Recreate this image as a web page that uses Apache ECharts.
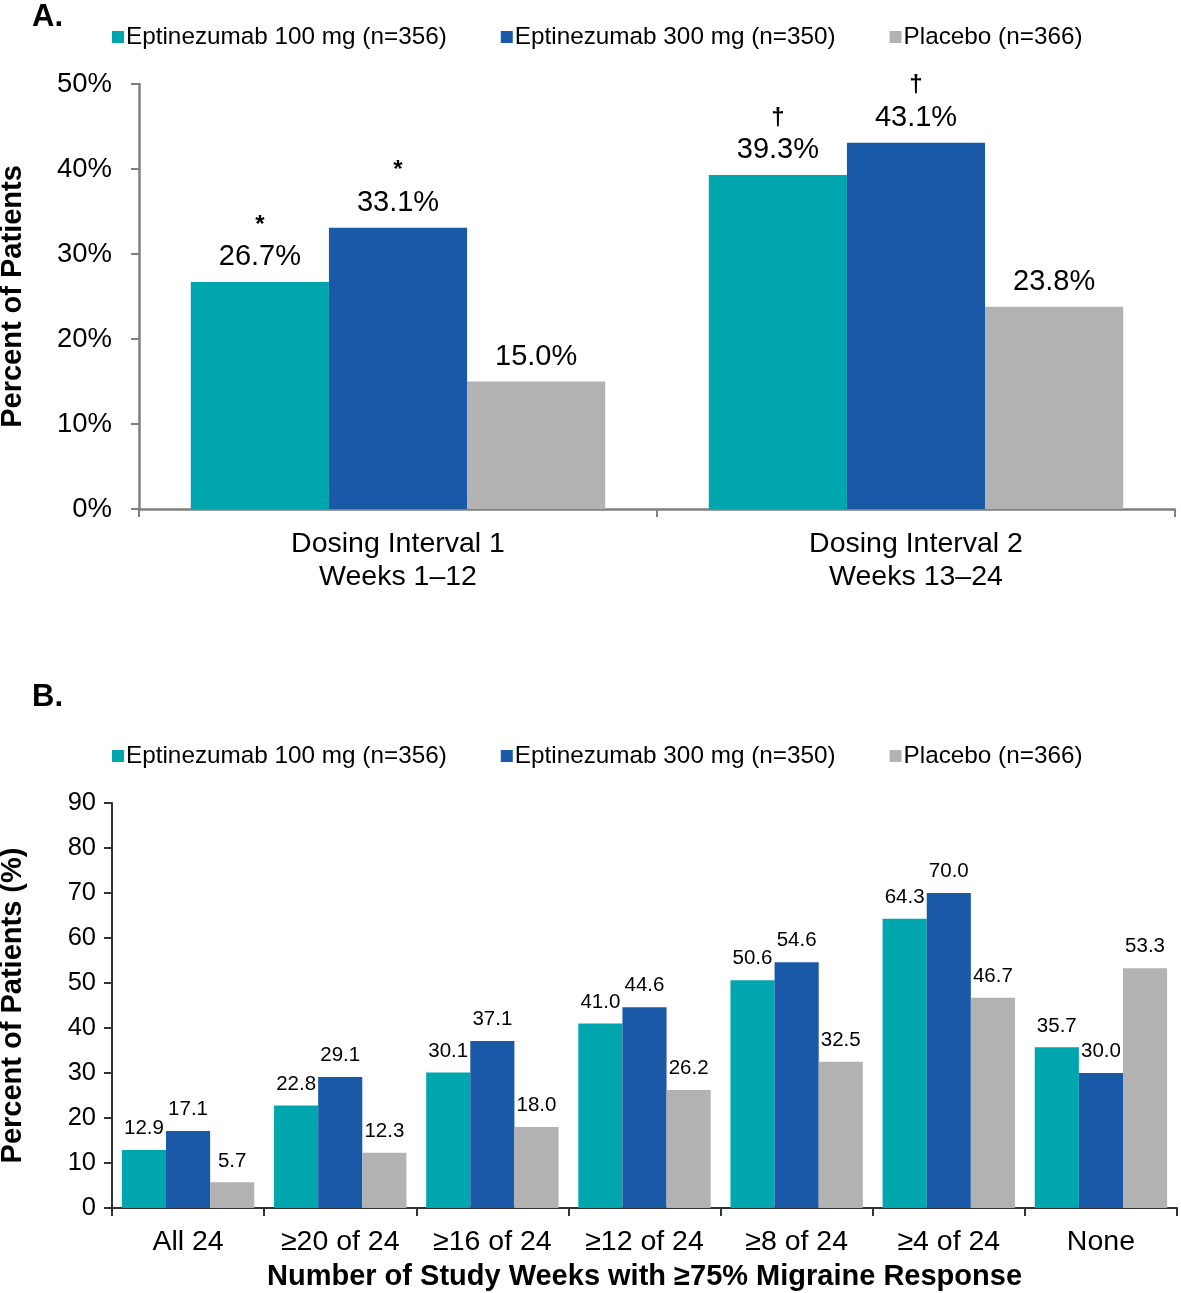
<!DOCTYPE html>
<html>
<head>
<meta charset="utf-8">
<script src="https://cdn.jsdelivr.net/npm/echarts@6/dist/echarts.min.js"></script>
<style>html,body{margin:0;padding:0;background:#fff;}#c{width:1181px;height:1293px;}</style>
</head>
<body>
<div id="c"></div>
<script>
// ---- Data ----
const seriesNames = ['Eptinezumab 100 mg (n=356)', 'Eptinezumab 300 mg (n=350)', 'Placebo (n=366)'];
const colors = ['#00A6AE', '#1A59A8', '#B2B2B2'];

// Panel A
const catsA = ['Dosing Interval 1\nWeeks 1\u201312', 'Dosing Interval 2\nWeeks 13\u201324'];
const a100 = [26.7, 39.3];
const a300 = [33.1, 43.1];
const aPbo = [15.0, 23.8];
const marksA100 = ['*', '\u2020'];
const marksA300 = ['*', '\u2020'];
const marksAPbo = ['', ''];
const ticksA = [0, 10, 20, 30, 40, 50];

// Panel B
const catsB = ['All 24', '\u226520 of 24', '\u226516 of 24', '\u226512 of 24', '\u22658 of 24', '\u22654 of 24', 'None'];
const b100 = [12.9, 22.8, 30.1, 41.0, 50.6, 64.3, 35.7];
const b300 = [17.1, 29.1, 37.1, 44.6, 54.6, 70.0, 30.0];
const bPbo = [5.7, 12.3, 18.0, 26.2, 32.5, 46.7, 53.3];
const ticksB = [0, 10, 20, 30, 40, 50, 60, 70, 80, 90];

const FONT = 'Liberation Sans, Arial, Helvetica, sans-serif';

function seriesA(idx, vals, marks) {
  return {
    name: seriesNames[idx], type: 'bar', xAxisIndex: 0, yAxisIndex: 0,
    data: vals, barGap: '0%', barCategoryGap: '20%',
    itemStyle: { color: colors[idx] },
    label: {
      show: true, position: 'top', distance: 9,
      formatter: p => {
        const m = marks[p.dataIndex];
        const v = p.value.toFixed(1) + '%';
        return m ? '{m|' + m + '}\n{v|' + v + '}' : '{v|' + v + '}';
      },
      rich: {
        m: { fontFamily: FONT, fontSize: 24, fontWeight: 'bold', color: '#000', lineHeight: 32, align: 'center' },
        v: { fontFamily: FONT, fontSize: 29, color: '#000', lineHeight: 32, align: 'center' }
      }
    }
  };
}
function seriesB(idx, vals) {
  return {
    name: seriesNames[idx], type: 'bar', xAxisIndex: 1, yAxisIndex: 1,
    data: vals, barGap: '0%', barCategoryGap: '13%',
    itemStyle: { color: colors[idx] },
    label: {
      show: true, position: 'top', distance: 11,
      fontFamily: FONT, fontSize: 20.5, color: '#000',
      formatter: p => p.value.toFixed(1)
    }
  };
}

const legendCommon = {
  data: seriesNames, icon: 'rect', itemWidth: 12, itemHeight: 12, itemGap: 54,
  left: 107, selectedMode: false,
  textStyle: { fontFamily: FONT, fontSize: 24.3, color: '#000', padding: [0, 0, 0, -3] }
};

const chart = echarts.init(document.getElementById('c'), null, { renderer: 'canvas' });
chart.setOption({
  animation: false,
  backgroundColor: '#fff',
  title: [
    { text: 'A.', left: 27, top: -3, textStyle: { fontFamily: FONT, fontSize: 31, fontWeight: 'bold', color: '#000' } },
    { text: 'B.', left: 27, top: 677, textStyle: { fontFamily: FONT, fontSize: 31, fontWeight: 'bold', color: '#000' } }
  ],
  legend: [
    Object.assign({}, legendCommon, { top: 20 }),
    Object.assign({}, legendCommon, { top: 739 })
  ],
  grid: [
    { left: 139, right: 6, top: 84, height: 425, outerBoundsMode: 'none', containLabel: false },
    { left: 112, right: 4, top: 803, height: 405, outerBoundsMode: 'none', containLabel: false }
  ],
  xAxis: [
    {
      type: 'category', gridIndex: 0, data: catsA,
      axisLine: { lineStyle: { color: '#7F7F7F', width: 2.5 } },
      axisTick: { show: true, length: 8, lineStyle: { color: '#7F7F7F', width: 2 } },
      axisLabel: { fontFamily: FONT, fontSize: 28.5, color: '#000', lineHeight: 33, margin: 19, interval: 0 }
    },
    {
      type: 'category', gridIndex: 1, data: catsB,
      axisLine: { lineStyle: { color: '#333', width: 2 } },
      axisTick: { show: true, length: 8, interval: 0, lineStyle: { color: '#333', width: 2 } },
      axisLabel: { fontFamily: FONT, fontSize: 28.5, color: '#000', margin: 20, interval: 0, hideOverlap: false },
      name: 'Number of Study Weeks with \u226575% Migraine Response',
      nameLocation: 'middle', nameGap: 54,
      nameTextStyle: { fontFamily: FONT, fontSize: 29, fontWeight: 'bold', color: '#000' }
    }
  ],
  yAxis: [
    {
      type: 'value', gridIndex: 0, min: 0, max: 50, interval: 10,
      axisLine: { show: true, lineStyle: { color: '#7F7F7F', width: 2.5 } },
      axisTick: { show: true, length: 8, lineStyle: { color: '#7F7F7F', width: 2 } },
      splitLine: { show: false },
      axisLabel: { fontFamily: FONT, fontSize: 27.5, color: '#000', margin: 27,
        formatter: v => (ticksA.indexOf(v) >= 0 ? v + '%' : '') },
      name: 'Percent of Patients', nameLocation: 'middle', nameRotate: 90, nameGap: 112,
      nameTextStyle: { fontFamily: FONT, fontSize: 29, fontWeight: 'bold', color: '#000' }
    },
    {
      type: 'value', gridIndex: 1, min: 0, max: 90, interval: 10,
      axisLine: { show: true, lineStyle: { color: '#333', width: 2 } },
      axisTick: { show: true, length: 8, lineStyle: { color: '#333', width: 2 } },
      splitLine: { show: false },
      axisLabel: { fontFamily: FONT, fontSize: 25.5, color: '#000', margin: 16,
        formatter: v => (ticksB.indexOf(v) >= 0 ? String(v) : '') },
      name: 'Percent of Patients (%)', nameLocation: 'middle', nameRotate: 90, nameGap: 85,
      nameTextStyle: { fontFamily: FONT, fontSize: 29, fontWeight: 'bold', color: '#000' }
    }
  ],
  series: [
    seriesA(0, a100, marksA100),
    seriesA(1, a300, marksA300),
    seriesA(2, aPbo, marksAPbo),
    seriesB(0, b100),
    seriesB(1, b300),
    seriesB(2, bPbo)
  ]
});
</script>
</body>
</html>
